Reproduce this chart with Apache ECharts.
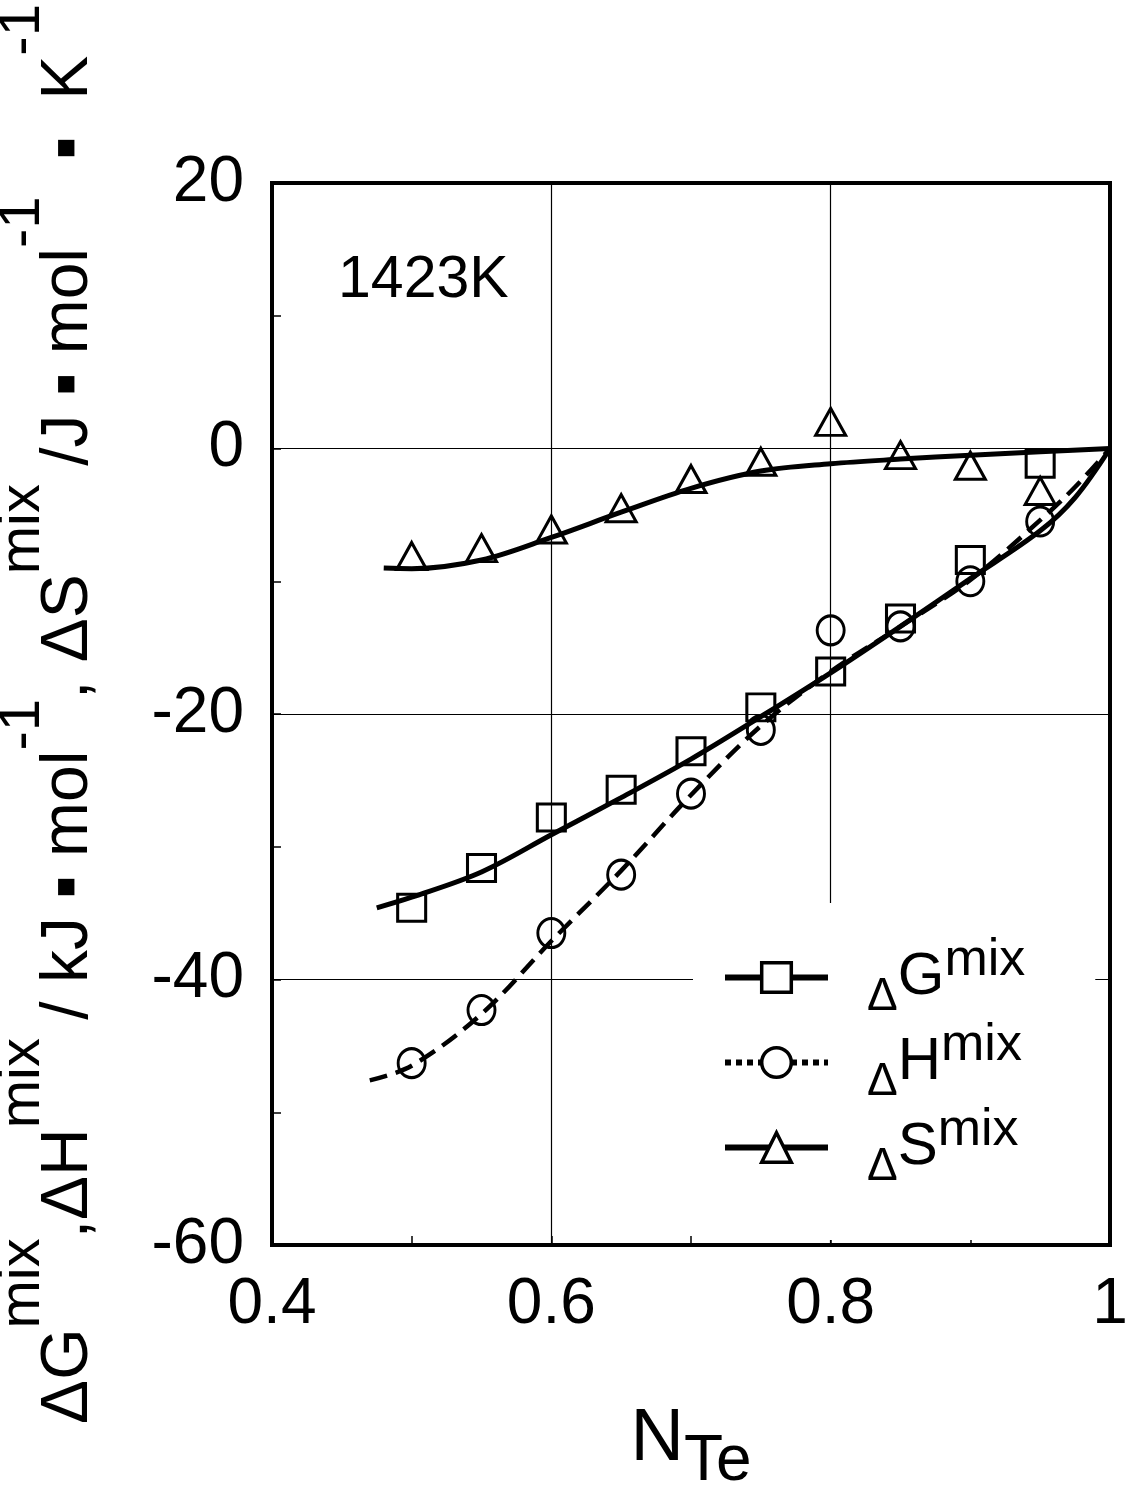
<!DOCTYPE html>
<html>
<head>
<meta charset="utf-8">
<script src="https://cdn.jsdelivr.net/npm/echarts@6/dist/echarts.min.js"></script>
<style>
  html, body { margin: 0; padding: 0; background: #fff; }
  #chart { width: 1128px; height: 1487px; }
</style>
</head>
<body>
<div id="chart"></div>
<script>
// ---- Data ----
const pointX = [0.5, 0.55, 0.6, 0.65, 0.7, 0.75, 0.8, 0.85, 0.9, 0.95];
const gPoints = [-34.6, -31.6, -27.8, -25.7, -22.8, -19.5, -16.8, -12.8, -8.4, -1.15];
const hPoints = [-46.3, -42.3, -36.5, -32.1, -26.0, -21.2, -13.7, -13.4, -10.0, -5.5];
const sPoints = [-8.1, -7.5, -6.1, -4.5, -2.3, -1.0, 2.0, -0.5, -1.3, -3.2];

const gCurveX = [0.475, 0.5, 0.55, 0.6, 0.65, 0.7, 0.75, 0.8, 0.85, 0.9, 0.95, 0.975, 1.0];
const gCurveY = [-34.6, -33.8, -31.9, -29.1, -26.3, -23.4, -20.2, -16.9, -13.4, -9.8, -6.2, -3.7, 0];
const hCurveX = [0.47, 0.5, 0.55, 0.6, 0.65, 0.7, 0.75, 0.8, 0.85, 0.9, 0.95, 0.975, 1.0];
const hCurveY = [-47.6, -46.5, -42.6, -37.1, -31.8, -26.1, -20.9, -16.8, -13.4, -9.9, -5.4, -2.9, 0];
const sCurveX = [0.48, 0.5, 0.55, 0.6, 0.65, 0.7, 0.75, 0.8, 0.85, 0.9, 0.95, 1.0];
const sCurveY = [-9.0, -9.05, -8.4, -6.7, -4.8, -3.0, -1.7, -1.15, -0.8, -0.5, -0.25, 0];

const xTickLabels = {0.4: '0.4', 0.6: '0.6', 0.8: '0.8', 1: '1'};
const seriesNames = ['ΔGmix', 'ΔHmix', 'ΔSmix'];
const legendLetters = {'ΔGmix': 'G', 'ΔHmix': 'H', 'ΔSmix': 'S'};
const temperatureLabel = '1423K';

const pairs = (xs, ys) => xs.map((x, i) => [x, ys[i]]);

const FONT = '"Liberation Sans", Arial, Helvetica, sans-serif';
const chart = echarts.init(document.getElementById('chart'), null, { renderer: 'canvas' });

const markerStyle = { color: 'rgba(0,0,0,0)', borderColor: '#000', borderWidth: 3 };
const legendMarker = { color: '#fff', borderColor: '#000', borderWidth: 3.5 };

const option = {
  backgroundColor: '#fff',
  animation: false,
  textStyle: { fontFamily: FONT, color: '#000' },
  title: {
    text: temperatureLabel,
    left: 338, top: 251, padding: 0,
    textStyle: { fontFamily: FONT, fontSize: 59, fontWeight: 'normal', color: '#000' }
  },
  grid: {
    left: 272, top: 183, width: 838, height: 1062,
    containLabel: false, outerBoundsMode: 'none',
    show: true, borderColor: '#000', borderWidth: 4, backgroundColor: 'transparent'
  },
  xAxis: {
    type: 'value', min: 0.4, max: 1, interval: 0.2,
    axisLine: { show: true, onZero: false, lineStyle: { color: '#000', width: 4 } },
    axisTick: { show: true, inside: true, length: 9, lineStyle: { color: '#000', width: 1.5 } },
    minorTick: { show: true, splitNumber: 2, length: 9, lineStyle: { color: '#000', width: 1.5 } },
    splitLine: { show: true, lineStyle: { color: '#000', width: 1.2 } },
    axisLabel: {
      fontSize: 64, fontFamily: FONT, color: '#000', margin: 28,
      formatter: v => xTickLabels[Math.round(v * 10) / 10] ?? ''
    },
    name: '{n|N}{t|Te}',
    nameLocation: 'middle', nameGap: 141,
    nameTextStyle: {
      fontFamily: FONT, color: '#000',
      rich: {
        n: { fontSize: 74, lineHeight: 108, fontFamily: FONT, color: '#000' },
        t: { fontSize: 64, lineHeight: 62, verticalAlign: 'bottom', fontFamily: FONT, color: '#000' }
      }
    }
  },
  yAxis: {
    type: 'value', min: -60, max: 20, interval: 20,
    axisLine: { show: true, onZero: false, lineStyle: { color: '#000', width: 4 } },
    axisTick: { show: true, inside: true, length: 9, lineStyle: { color: '#000', width: 1.5 } },
    minorTick: { show: true, splitNumber: 2, length: 9, lineStyle: { color: '#000', width: 1.5 } },
    splitLine: { show: true, lineStyle: { color: '#000', width: 1.2 } },
    axisLabel: { fontSize: 64, fontFamily: FONT, color: '#000', margin: 28 },
    name: '{m|ΔG}{s|mix}{m|,ΔH}{s|mix}{m| / kJ ▪ mol}{s|-1}{m|, ΔS}{s|mix}{m| /J ▪ mol}{s|-1}{m|  ▪  K}{s|-1}',
    nameLocation: 'middle', nameGap: 128, nameRotate: 90,
    nameTextStyle: {
      fontFamily: FONT, color: '#000',
      rich: {
        m: { fontSize: 66, lineHeight: 150, fontFamily: FONT, color: '#000' },
        s: { fontSize: 58, lineHeight: 58, verticalAlign: 'top', fontFamily: FONT, color: '#000' }
      }
    }
  },
  legend: {
    orient: 'vertical',
    left: 693, top: 903,
    padding: [32, 70, 50, 29],
    backgroundColor: '#fff',
    itemGap: 0,
    itemWidth: 103, itemHeight: 37,
    selectedMode: false,
    data: [
      { name: seriesNames[0], itemStyle: legendMarker,
        lineStyle: { color: '#000', width: 6, type: 'solid', opacity: 1 } },
      { name: seriesNames[1], itemStyle: legendMarker,
        lineStyle: { color: '#000', width: 6, type: [6, 5], opacity: 1 } },
      { name: seriesNames[2], itemStyle: legendMarker,
        lineStyle: { color: '#000', width: 6, type: 'solid', opacity: 1 } }
    ],
    formatter: name => '{p| }{d|Δ}{g|' + legendLetters[name] + '}{s|mix}',
    textStyle: {
      fontFamily: FONT, color: '#000', fontSize: 60,
      rich: {
        p: { fontSize: 10, width: 34, fontFamily: FONT },
        d: { fontSize: 46, lineHeight: 78, verticalAlign: 'bottom', fontFamily: FONT, color: '#000' },
        g: { fontSize: 60, lineHeight: 85, fontFamily: FONT, color: '#000' },
        s: { fontSize: 52, lineHeight: 50, verticalAlign: 'top', fontFamily: FONT, color: '#000' }
      }
    }
  },
  series: [
    { name: 'ΔG fit', type: 'line', data: pairs(gCurveX, gCurveY), smooth: 0.35, symbol: 'none',
      lineStyle: { color: '#000', width: 5 }, z: 2, silent: true },
    { name: 'ΔH fit', type: 'line', data: pairs(hCurveX, hCurveY), smooth: 0.35, symbol: 'none',
      lineStyle: { color: '#000', width: 4.5, type: [18, 9] }, z: 2, silent: true },
    { name: 'ΔS fit', type: 'line', data: pairs(sCurveX, sCurveY), smooth: 0.35, symbol: 'none',
      lineStyle: { color: '#000', width: 5 }, z: 2, silent: true },
    { name: seriesNames[0], type: 'line', data: pairs(pointX, gPoints), symbol: 'rect', symbolSize: [28, 27],
      showSymbol: true, itemStyle: markerStyle, lineStyle: { opacity: 0, width: 0 }, z: 3 },
    { name: seriesNames[1], type: 'line', data: pairs(pointX, hPoints), symbol: 'circle', symbolSize: [27, 29],
      showSymbol: true, itemStyle: markerStyle, lineStyle: { opacity: 0, width: 0 }, z: 3 },
    { name: seriesNames[2], type: 'line', data: pairs(pointX, sPoints), symbol: 'triangle', symbolSize: [30, 27],
      showSymbol: true, itemStyle: markerStyle, lineStyle: { opacity: 0, width: 0 }, z: 3 }
  ]
};
chart.setOption(option);
</script>
</body>
</html>
